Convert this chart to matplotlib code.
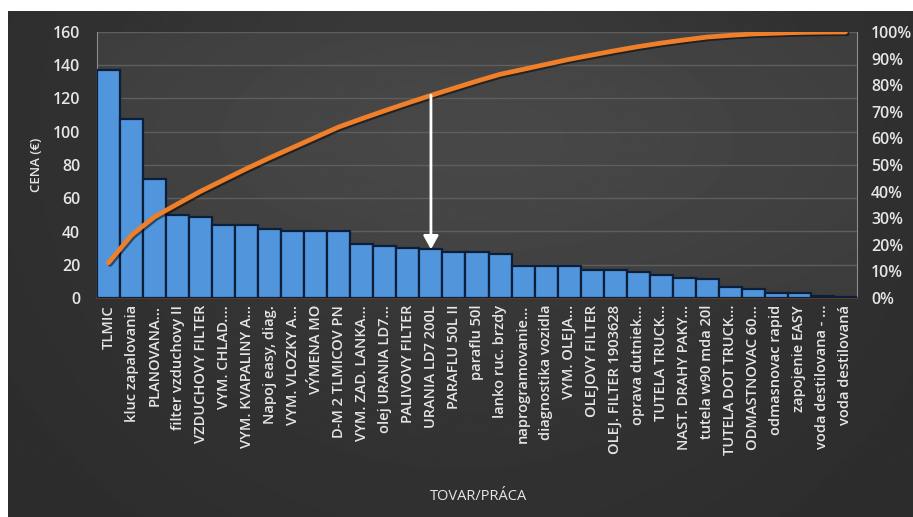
import numpy as np
import matplotlib
matplotlib.use("Agg")
import matplotlib.pyplot as plt
import matplotlib.patheffects as pe
from matplotlib.ticker import PercentFormatter, MultipleLocator

# ── data ─────────────────────────────────────────────────────────────────────
items = [
    "TLMIC", "kluc zapalovania", "PLANOVANA...", "filter vzduchovy II",
    "VZDUCHOVY FILTER", "VYM. CHLAD....", "VYM. KVAPALINY A...", "Napoj easy, diag.",
    "VYM. VLOZKY A...", "VÝMENA MO", "D-M 2 TLMICOV PN", "VYM. ZAD. LANKA...",
    "olej URANIA LD7...", "PALIVOVY FILTER", "URANIA LD7 200L", "PARAFLU 50L II",
    "paraflu 50l", "lanko ruc. brzdy", "naprogramovanie...", "diagnostika vozidla",
    "VYM. OLEJA...", "OLEJOVY FILTER", "OLEJ. FILTER 1903628", "oprava dutniek...",
    "TUTELA TRUCK...", "NAST. DRAHY PAKY...", "tutela w90 mda 20l", "TUTELA DOT TRUCK...",
    "ODMASTNOVAC 60...", "odmasnovac rapid", "zapojenie EASY", "voda destilovana - ...",
    "voda destilovaná",
]
price = [
    137, 107.4, 71.3, 50, 49, 44.2, 44.2, 41.6,
    40, 40, 40, 32.2, 31.1, 30.1, 29.3, 27.8,
    27.8, 26.2, 19.4, 19.4, 19.4, 16.9, 16.9, 15.7,
    13.8, 12.2, 11.2, 6.6, 5.4, 2.9, 2.9, 1.2,
    0.6,
]
y_ticks = [0, 20, 40, 60, 80, 100, 120, 140, 160]
arrow_item = 14  # cumulative point marked with the arrow

price = np.array(price)
cum_share = np.cumsum(price) / price.sum()
x = np.arange(len(items))

# ── styling ──────────────────────────────────────────────────────────────────
plt.rcParams["font.family"] = ["Open Sans", "DejaVu Sans"]
TXT = "#e6e6e6"
GRID = "#5e5e5e"
BAR = "#5196dc"
EDGE = "#0c1f3a"
LINE = "#f07f2a"

fig = plt.figure(figsize=(9.13, 5.17), dpi=100, facecolor="white")

# dark card behind the chart
card = fig.add_axes([8 / 913, 0, 1 - 8 / 913, 1 - 11 / 517], zorder=-10)
grad = np.linspace(0.0, 1.0, 256)
gx, gy = np.meshgrid(grad, grad)
shade = 0.17 + 0.06 * np.exp(-((gx - 0.5) ** 2 / 0.18 + (gy - 0.75) ** 2 / 0.5))
card.imshow(shade, cmap="gray", vmin=0, vmax=1, aspect="auto",
            extent=[0, 1, 0, 1], origin="lower")
card.set_axis_off()

ax = fig.add_axes([97 / 913, 1 - 298 / 517, (857 - 97) / 913, (298 - 32) / 517])
ax.set_facecolor((0, 0, 0, 0))

# plot-area gradient
pa = fig.add_axes(ax.get_position().bounds, zorder=-5)
pshade = 0.23 + 0.05 * np.exp(-((gx - 0.5) ** 2 / 0.25 + (gy - 0.6) ** 2 / 0.4))
pa.imshow(pshade, cmap="gray", vmin=0, vmax=1, aspect="auto",
          extent=[0, 1, 0, 1], origin="lower")
pa.set_axis_off()

ax.bar(x, price, width=1.0, color=BAR, edgecolor=EDGE, linewidth=1.6, zorder=3)

ax.set_xlim(-0.5, len(items) - 0.5)
ax.set_ylim(0, 160)
ax.set_yticks(y_ticks)
ax.yaxis.grid(True, color=GRID, linewidth=1.0, zorder=0)
ax.set_axisbelow(True)
ax.set_xticks(x)
ax.set_xticklabels(items, rotation=90, fontsize=10.5, color=TXT, va="top",
                   fontweight="semibold")
ax.tick_params(axis="x", length=0, pad=5)
ax.tick_params(axis="y", length=0, pad=12, labelsize=11.5, labelcolor=TXT)
for lab in ax.get_yticklabels():
    lab.set_fontweight("semibold")

ax.spines["top"].set_visible(False)
ax.spines["left"].set_color("#8c8c8c")
ax.spines["right"].set_color("#8c8c8c")
ax.spines["bottom"].set_color("#5a3a28")
ax.spines["bottom"].set_linewidth(1.5)

# cumulative share on the secondary axis
ax2 = ax.twinx()
ax2.plot(x, cum_share, color=LINE, linewidth=3.4, solid_capstyle="round", zorder=5,
         path_effects=[pe.SimpleLineShadow(offset=(1.2, -1.2), shadow_color="black", alpha=0.5),
                       pe.Normal()])
ax2.set_ylim(0, 1)
ax2.yaxis.set_major_locator(MultipleLocator(0.1))
ax2.yaxis.set_major_formatter(PercentFormatter(1.0, decimals=0))
ax2.tick_params(axis="y", length=0, pad=10, labelsize=11.5, labelcolor=TXT)
for lab in ax2.get_yticklabels():
    lab.set_fontweight("semibold")
for side in ("top", "bottom", "left", "right"):
    ax2.spines[side].set_visible(False)

# arrow from the cumulative curve down to the bar
ax2.annotate("", xy=(arrow_item, price[arrow_item] / 160),
             xytext=(arrow_item, cum_share[arrow_item]),
             arrowprops=dict(arrowstyle="-|>,head_length=0.8,head_width=0.45",
                             color="white", lw=2.0, shrinkA=0, shrinkB=0),
             zorder=6)

fig.text(36 / 913, 1 - 165 / 517, "CENA (€)", rotation=90, ha="center", va="center",
         fontsize=9.5, color=TXT, fontweight="semibold")
fig.text(478 / 913, 1 - 497 / 517, "TOVAR/PRÁCA", ha="center", va="center",
         fontsize=10.5, color=TXT)

fig.savefig("out.png", dpi=100, facecolor=fig.get_facecolor())
